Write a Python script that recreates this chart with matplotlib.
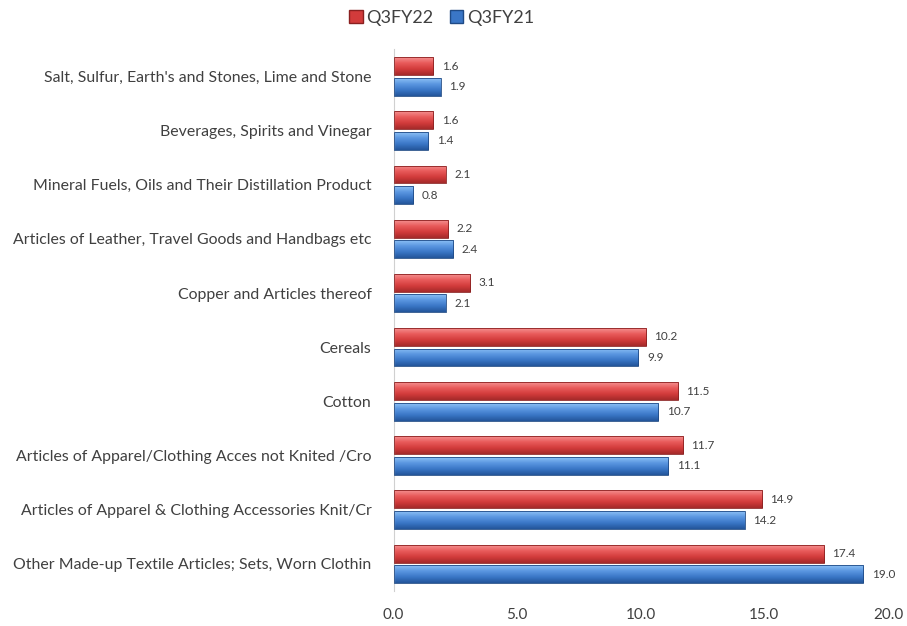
import matplotlib.pyplot as plt
import numpy as np
from matplotlib.colors import LinearSegmentedColormap
from matplotlib.patches import Patch

plt.rcParams['font.family'] = ['Lato', 'DejaVu Sans']

categories = ["Other Made-up Textile Articles; Sets, Worn Clothin",
              "Articles of Apparel & Clothing Accessories Knit/Cr",
              "Articles of Apparel/Clothing Acces not Knited /Cro",
              "Cotton",
              "Cereals",
              "Copper and Articles thereof",
              "Articles of Leather, Travel Goods and Handbags etc",
              "Mineral Fuels, Oils and Their Distillation Product",
              "Beverages, Spirits and Vinegar",
              "Salt, Sulfur, Earth's and Stones, Lime and Stone"]
q3fy22 = [17.4, 14.9, 11.7, 11.5, 10.2, 3.1, 2.2, 2.1, 1.6, 1.6]
q3fy21 = [19.0, 14.2, 11.1, 10.7, 9.9, 2.1, 2.4, 0.8, 1.4, 1.9]
xticks = [0, 5, 10, 15, 20]

fig = plt.figure(figsize=(9.07, 6.26), dpi=100)
ax = fig.add_axes([0.434, 0.056, 0.545, 0.865])

y = np.arange(len(categories))
h = 0.33
off = 0.19

red_cm = LinearSegmentedColormap.from_list("r", ["#a52a2a", "#d23b3b", "#e85a5a", "#f59090"])
blue_cm = LinearSegmentedColormap.from_list("b", ["#23559a", "#3a76c6", "#5a96e0", "#8cc0f5"])
grad = np.linspace(0, 1, 64).reshape(-1, 1)


def shade(bars, cmap, edge):
    for b in bars:
        x0, y0 = b.get_x(), b.get_y()
        w, hh = b.get_width(), b.get_height()
        b.set_facecolor("none")
        b.set_edgecolor(edge)
        b.set_linewidth(0.6)
        im = ax.imshow(grad, cmap=cmap, aspect="auto", origin="lower",
                       extent=[x0, x0 + w, y0, y0 + hh], zorder=2)
        im.set_clip_path(b)


r = ax.barh(y + off, q3fy22, height=h, zorder=3)
b = ax.barh(y - off, q3fy21, height=h, zorder=3)
shade(r, red_cm, "#8a2020")
shade(b, blue_cm, "#1f4a85")

for yi, v in zip(y, q3fy22):
    ax.text(v + 0.35, yi + off, f"{v:.1f}", va="center", ha="left", fontsize=8.5, color="#404040")
for yi, v in zip(y, q3fy21):
    ax.text(v + 0.35, yi - off, f"{v:.1f}", va="center", ha="left", fontsize=8.5, color="#404040")

ax.set_xlim(0, 20)
ax.set_ylim(-0.5, len(categories) - 0.5)
ax.set_yticks(y)
ax.set_yticklabels(categories, fontsize=11.4, color="#404040")
ax.set_xticks(xticks)
ax.set_xticklabels([f"{t:.1f}" for t in xticks], fontsize=11, color="#404040")
ax.tick_params(length=0)
ax.tick_params(axis="y", pad=16)
ax.tick_params(axis="x", pad=12)
for s in ["top", "right", "bottom"]:
    ax.spines[s].set_visible(False)
ax.spines["left"].set_color("#d0d0d0")

handles = [Patch(facecolor="#d23b3b", edgecolor="#8a2020"),
           Patch(facecolor="#3a76c6", edgecolor="#1f4a85")]
fig.legend(handles, ["Q3FY22", "Q3FY21"], loc="center", bbox_to_anchor=(0.487, 0.971),
           ncol=2, frameon=False, fontsize=13, handlelength=0.75, handleheight=0.75,
           handletextpad=0.2, columnspacing=0.9, labelcolor="#404040")

fig.savefig("out.png", dpi=100)
